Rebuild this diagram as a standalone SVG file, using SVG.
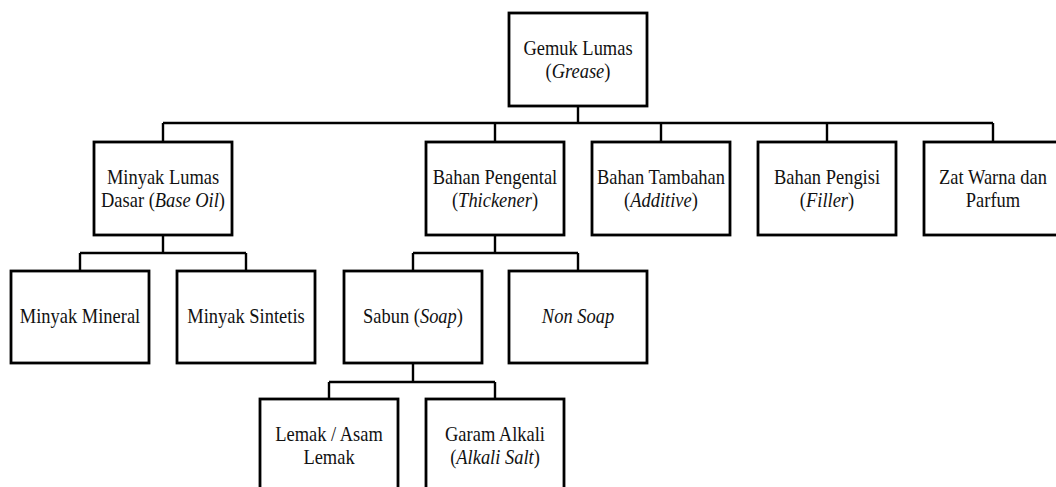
<svg xmlns="http://www.w3.org/2000/svg" width="1056" height="487" viewBox="0 0 1056 487">
<style>
.box{fill:#fff;stroke:#000;stroke-width:2.8}
.con{fill:none;stroke:#000;stroke-width:2.4}
.t{font-family:'Liberation Serif','Times New Roman',serif;font-size:20.5px;fill:#111;text-anchor:middle}
.i{font-style:italic}
</style>
<rect width="1056" height="487" fill="#fff"/>
<g id="connectors" class="con">
<path d="M578 106V123M163 123H993M163 123V142M495 123V142M661 123V142M827 123V142M993 123V142"/>
<path d="M163 235V253M80 253H246M80 253V271M246 253V271"/>
<path d="M495 235V253M413 253H578M413 253V271M578 253V271"/>
<path d="M413 363V382M329 382H495M329 382V399M495 382V399"/>
</g>
<g class="t" font-family="Liberation Serif, serif">
<g id="n-grease">
<rect class="box" x="509" y="13" width="138" height="93"/>
<text transform="translate(578 55) scale(0.9 1)">Gemuk Lumas</text>
<text transform="translate(578 78) scale(0.9 1)">(<tspan class="i">Grease</tspan>)</text>
</g>
<g id="n-baseoil">
<rect class="box" x="94" y="142" width="138" height="93"/>
<text transform="translate(163 184) scale(0.9 1)">Minyak Lumas</text>
<text transform="translate(163 207) scale(0.9 1)">Dasar (<tspan class="i">Base Oil</tspan>)</text>
</g>
<g id="n-thickener">
<rect class="box" x="426" y="142" width="138" height="93"/>
<text transform="translate(495 184) scale(0.9 1)">Bahan Pengental</text>
<text transform="translate(495 207) scale(0.9 1)">(<tspan class="i">Thickener</tspan>)</text>
</g>
<g id="n-additive">
<rect class="box" x="592" y="142" width="138" height="93"/>
<text transform="translate(661 184) scale(0.9 1)">Bahan Tambahan</text>
<text transform="translate(661 207) scale(0.9 1)">(<tspan class="i">Additive</tspan>)</text>
</g>
<g id="n-filler">
<rect class="box" x="758" y="142" width="138" height="93"/>
<text transform="translate(827 184) scale(0.9 1)">Bahan Pengisi</text>
<text transform="translate(827 207) scale(0.9 1)">(<tspan class="i">Filler</tspan>)</text>
</g>
<g id="n-zatwarna">
<rect class="box" x="924" y="142" width="138" height="93"/>
<text transform="translate(993 184) scale(0.9 1)">Zat Warna dan</text>
<text transform="translate(993 207) scale(0.9 1)">Parfum</text>
</g>
<g id="n-mineral">
<rect class="box" x="11" y="271" width="138" height="92"/>
<text transform="translate(80 323) scale(0.9 1)">Minyak Mineral</text>
</g>
<g id="n-sintetis">
<rect class="box" x="177" y="271" width="138" height="92"/>
<text transform="translate(246 323) scale(0.9 1)">Minyak Sintetis</text>
</g>
<g id="n-soap">
<rect class="box" x="344" y="271" width="138" height="92"/>
<text transform="translate(413 323) scale(0.9 1)">Sabun (<tspan class="i">Soap</tspan>)</text>
</g>
<g id="n-nonsoap">
<rect class="box" x="509" y="271" width="138" height="92"/>
<text transform="translate(578 323) scale(0.9 1)" class="i">Non Soap</text>
</g>
<g id="n-lemak">
<rect class="box" x="260" y="399" width="138" height="93"/>
<text transform="translate(329 441) scale(0.9 1)">Lemak / Asam</text>
<text transform="translate(329 464) scale(0.9 1)">Lemak</text>
</g>
<g id="n-garam">
<rect class="box" x="426" y="399" width="138" height="93"/>
<text transform="translate(495 441) scale(0.9 1)">Garam Alkali</text>
<text transform="translate(495 464) scale(0.9 1)">(<tspan class="i">Alkali Salt</tspan>)</text>
</g>
</g>
</svg>
